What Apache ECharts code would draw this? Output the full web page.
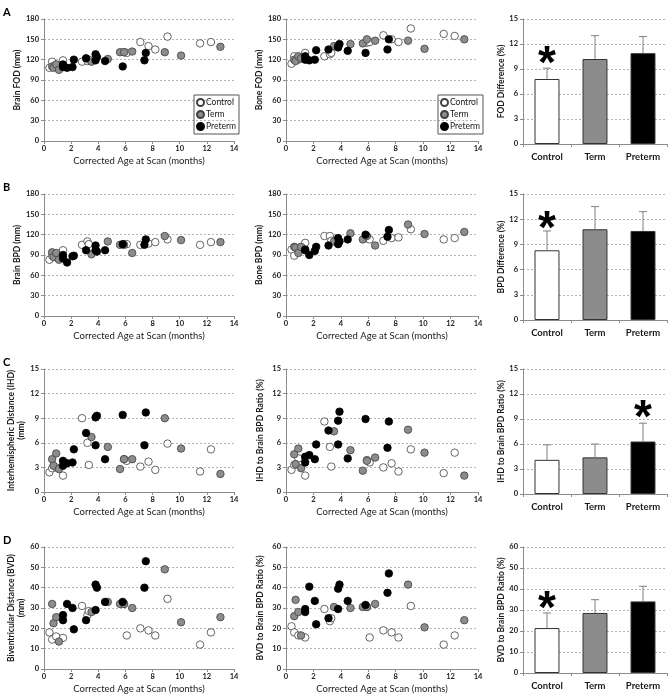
<!DOCTYPE html>
<html>
<head>
<meta charset="utf-8">
<script src="https://cdn.jsdelivr.net/npm/echarts@6/dist/echarts.min.js"></script>
<style>
  html, body { margin: 0; padding: 0; background: #fff; }
  #main { width: 669px; height: 699px; }
</style>
</head>
<body>
<div id="main"></div>
<script>
const groups = ['Control', 'Term', 'Preterm'];

// corrected age at scan (months) per subject
const controlAge = [0.4, 0.6, 0.9, 1.4, 2.8, 3.2, 3.3, 5.9, 6.1, 7.1, 7.7, 8.2, 9.1, 11.5, 12.3];
const termAge = [0.6, 0.7, 0.9, 1.1, 3.5, 4.7, 5.6, 5.9, 6.5, 8.9, 10.1, 13.0];
const pretermAge = [1.4, 1.4, 1.7, 2.1, 2.2, 3.1, 3.8, 3.8, 3.9, 4.5, 5.8, 7.4, 7.5];

// A
const brainFodControl = [108, 117, 111, 119, 117, 118, 120, 131, 130, 146, 140, 135, 154, 144, 146];
const brainFodTerm = [110, 108, 113, 105, 117, 121, 131, 131, 132, 131, 126, 139];
const brainFodPreterm = [113, 109, 108, 109, 120, 122, 128, 119, 124, 118, 110, 119, 130];
const boneFodControl = [114, 125, 120, 130, 125, 128, 130, 145, 146, 156, 150, 146, 166, 158, 155];
const boneFodTerm = [120, 118, 125, 122, 140, 143, 144, 150, 148, 148, 136, 150];
const boneFodPreterm = [125, 120, 119, 120, 134, 135, 138, 140, 143, 133, 130, 135, 150];
const fodDiffMean = [7.8, 10.2, 10.9];
const fodDiffErr = [1.3, 2.8, 2.0];

// B
const brainBpdControl = [83, 89, 87, 97, 105, 110, 106, 106, 106, 105, 107, 109, 113, 105, 109];
const brainBpdTerm = [94, 87, 93, 83, 91, 110, 105, 105, 93, 118, 112, 109];
const brainBpdPreterm = [90, 85, 79, 88, 89, 97, 104, 97, 95, 97, 106, 105, 113];
const boneBpdControl = [98, 89, 100, 108, 118, 118, 111, 115, 113, 111, 115, 116, 128, 113, 115];
const boneBpdTerm = [102, 101, 93, 102, 110, 122, 113, 118, 104, 135, 121, 124];
const boneBpdPreterm = [98, 97, 90, 96, 102, 104, 106, 115, 110, 113, 120, 117, 127];
const bpdDiffMean = [8.3, 10.8, 10.6];
const bpdDiffErr = [2.3, 2.7, 2.3];

// C
const ihdControl = [2.4, 2.9, 3.0, 2.0, 9.0, 6.0, 3.3, 4.0, 3.8, 3.1, 3.7, 2.7, 5.9, 2.5, 5.2];
const ihdTerm = [4.0, 3.2, 4.7, 2.8, 6.7, 5.5, 2.8, 4.0, 4.0, 9.0, 5.3, 2.2];
const ihdPreterm = [3.8, 3.2, 3.5, 3.6, 5.2, 7.2, 9.1, 5.7, 9.3, 4.0, 9.4, 5.7, 9.7];
const ihdRatioControl = [2.7, 3.3, 4.1, 2.0, 8.6, 5.5, 3.1, 3.9, 3.6, 3.0, 3.5, 2.5, 5.2, 2.3, 4.8];
const ihdRatioTerm = [4.6, 3.4, 5.3, 2.9, 7.4, 5.1, 2.6, 3.8, 4.2, 7.6, 4.8, 2.0];
const ihdRatioPreterm = [4.3, 3.6, 4.5, 4.0, 5.8, 7.5, 8.7, 5.8, 9.8, 4.1, 8.9, 5.4, 8.6];
const ihdRatioMean = [4.1, 4.4, 6.3];
const ihdRatioErr = [1.8, 1.6, 2.2];

// D
const bvdControl = [18, 14.5, 16, 15.3, 31, 26.5, 28.5, 32, 16.5, 20, 19, 16.5, 34.5, 12, 18];
const bvdTerm = [32, 22.5, 25.5, 13.5, 28, 33, 32, 32, 30, 49, 23, 25.5];
const bvdPreterm = [26.5, 24, 32, 30, 19.5, 24, 41.5, 29, 40, 33, 33, 40, 53];
const bvdRatioControl = [21, 18, 16.5, 15.5, 29.5, 23.5, 25, 30.5, 15.5, 19, 18, 15.5, 31, 12, 16.5];
const bvdRatioTerm = [26, 34, 28, 16.5, 30.5, 30, 30.5, 30.5, 32, 41.5, 20.5, 24];
const bvdRatioPreterm = [29.5, 28, 40.5, 33.5, 22, 25, 39.5, 29.5, 41.5, 33.5, 31.5, 37.5, 47];
const bvdRatioMean = [21.4, 28.6, 34.1];
const bvdRatioErr = [7.2, 6.3, 7.2];

// significance stars: group and height of the star
const starGroup = ['Control', 'Control', 'Preterm', 'Control'];
const starValue = [10.7, 11.9, 10.2, 34.8];

const ages = [controlAge, termAge, pretermAge];
const font = 'Lato';
const axisGray = '#8c8c8c';
const fills = ['#ffffff', '#8c8c8c', '#000000'];
const edges = ['#404040', '#404040', '#000000'];

const rows = [
  { letter: 'A', top: 19, h: 122, barH: 125, max: 180, step: 30, barMax: 15, barStep: 3,
    names: ['Brain FOD (mm)', 'Bone FOD (mm)', 'FOD Difference (%)'],
    values: [[brainFodControl, brainFodTerm, brainFodPreterm], [boneFodControl, boneFodTerm, boneFodPreterm]],
    mean: fodDiffMean, err: fodDiffErr, legend: true },
  { letter: 'B', top: 194, h: 122, barH: 126, max: 180, step: 30, barMax: 15, barStep: 3,
    names: ['Brain BPD (mm)', 'Bone BPD (mm)', 'BPD Difference (%)'],
    values: [[brainBpdControl, brainBpdTerm, brainBpdPreterm], [boneBpdControl, boneBpdTerm, boneBpdPreterm]],
    mean: bpdDiffMean, err: bpdDiffErr },
  { letter: 'C', top: 369, h: 123, barH: 125, max: 15, step: 3, barMax: 15, barStep: 3,
    names: ['Interhemispheric Distance (IHD)\n(mm)', 'IHD to Brain BPD Ratio (%)', 'IHD to Brain BPD Ratio (%)'],
    values: [[ihdControl, ihdTerm, ihdPreterm], [ihdRatioControl, ihdRatioTerm, ihdRatioPreterm]],
    mean: ihdRatioMean, err: ihdRatioErr },
  { letter: 'D', top: 547, h: 122, barH: 126, max: 60, step: 10, barMax: 60, barStep: 10,
    names: ['Biventricular Distance (BVD)\n(mm)', 'BVD to Brain BPD Ratio (%)', 'BVD to Brain BPD Ratio (%)'],
    values: [[bvdControl, bvdTerm, bvdPreterm], [bvdRatioControl, bvdRatioTerm, bvdRatioPreterm]],
    mean: bvdRatioMean, err: bvdRatioErr }
];
const colLeft = [44, 286, 523];
const colWidth = [190, 192, 144];

const grid = [], xAxis = [], yAxis = [], series = [], legend = [], graphic = [];

const tickLabel = { fontFamily: font, fontSize: 7.5, fontWeight: 'bold', color: '#1a1a1a' };
const axisLine = { show: true, lineStyle: { color: axisGray, width: 1 } };
const axisTick = { show: true, length: 3, lineStyle: { color: axisGray } };
const splitLine = { show: true, lineStyle: { color: '#b4b4b4', type: [2, 2], width: 1 } };

function renderErr(params, api) {
  const x = api.value(0);
  const base = api.coord([x, api.value(1)]);
  const top = api.coord([x, api.value(2)]);
  const style = { stroke: '#7f7f7f', lineWidth: 1 };
  return {
    type: 'group',
    children: [
      { type: 'line', shape: { x1: base[0], y1: base[1], x2: top[0], y2: top[1] }, style },
      { type: 'line', shape: { x1: top[0] - 4, y1: top[1], x2: top[0] + 4, y2: top[1] }, style }
    ]
  };
}

rows.forEach((row, r) => {
  graphic.push({ type: 'text', left: 3, top: row.top - 12,
    style: { text: row.letter, font: 'bold 11px ' + font, fill: '#000' } });

  for (let c = 0; c < 2; c++) {
    const gi = grid.length;
    grid.push({ left: colLeft[c], top: row.top, width: colWidth[c], height: row.h });
    xAxis.push({
      gridIndex: gi, type: 'value', min: 0, max: 14, interval: 2,
      axisLine, axisTick, splitLine: { show: false },
      axisLabel: Object.assign({ margin: 4 }, tickLabel),
      name: 'Corrected Age at Scan (months)', nameLocation: 'middle', nameGap: 15,
      nameTextStyle: { fontFamily: font, fontSize: 9.5, color: '#1a1a1a' }
    });
    const twoLine = row.names[c].indexOf('\n') >= 0;
    yAxis.push({
      gridIndex: gi, type: 'value', min: 0, max: row.max, interval: row.step,
      axisLine, axisTick, splitLine,
      axisLabel: Object.assign({ margin: 5 }, tickLabel),
      name: row.names[c], nameLocation: 'middle', nameGap: twoLine ? 18 : 21,
      nameTextStyle: { fontFamily: font, fontSize: 8.5, fontWeight: 'bold', color: '#1a1a1a', lineHeight: 10 }
    });
    groups.forEach((g, k) => {
      series.push({
        name: g, type: 'scatter', xAxisIndex: gi, yAxisIndex: gi,
        symbolSize: 7.5,
        itemStyle: { color: fills[k], borderColor: edges[k], borderWidth: 0.8, opacity: 1 },
        data: ages[k].map((a, i) => [a, row.values[c][k][i]])
      });
    });
    if (row.legend) {
      legend.push({
        left: colLeft[c] + colWidth[c] - 40, top: 95, orient: 'vertical',
        data: groups, icon: 'circle', itemWidth: 7, itemHeight: 7, itemGap: 3,
        borderColor: '#555', borderWidth: 1, borderRadius: 0, padding: [3, 3, 3, 2],
        selectedMode: false,
        textStyle: { fontFamily: font, fontSize: 8.5, color: '#1a1a1a', padding: [0, 0, 0, -3] }
      });
    }
  }

  const gi = grid.length;
  grid.push({ left: colLeft[2], top: row.top, width: colWidth[2], height: row.barH });
  xAxis.push({
    gridIndex: gi, type: 'category', data: groups,
    axisLine, axisTick: Object.assign({ alignWithLabel: false }, axisTick),
    axisLabel: { margin: 8, fontFamily: font, fontSize: 9.5, fontWeight: 'bold', color: '#1a1a1a' }
  });
  yAxis.push({
    gridIndex: gi, type: 'value', min: 0, max: row.barMax, interval: row.barStep,
    axisLine, axisTick, splitLine,
    axisLabel: Object.assign({ margin: 5 }, tickLabel),
    name: row.names[2], nameLocation: 'middle', nameGap: 17,
    nameTextStyle: { fontFamily: font, fontSize: 8.5, fontWeight: 'bold', color: '#1a1a1a' }
  });
  series.push({
    type: 'bar', xAxisIndex: gi, yAxisIndex: gi, barWidth: '52%',
    data: row.mean.map((v, k) => ({ value: v, itemStyle: { color: fills[k], borderColor: '#333', borderWidth: 1 } })),
    markPoint: {
      symbol: 'circle', symbolSize: 1, itemStyle: { color: 'rgba(0,0,0,0)' },
      label: { show: true, formatter: '*', position: 'inside', offset: [0, 10],
        fontFamily: 'Liberation Sans', fontSize: 46, fontWeight: 'bold', color: '#000' },
      data: [{ coord: [starGroup[r], starValue[r]] }]
    }
  });
  series.push({
    type: 'custom', xAxisIndex: gi, yAxisIndex: gi, renderItem: renderErr, z: 5,
    data: row.mean.map((v, k) => [k, v, v + row.err[k]])
  });
});

const chart = echarts.init(document.getElementById('main'), null, { renderer: 'canvas' });
chart.setOption({
  animation: false,
  backgroundColor: '#fff',
  textStyle: { fontFamily: font },
  grid, xAxis, yAxis, series, legend, graphic
});
</script>
</body>
</html>
